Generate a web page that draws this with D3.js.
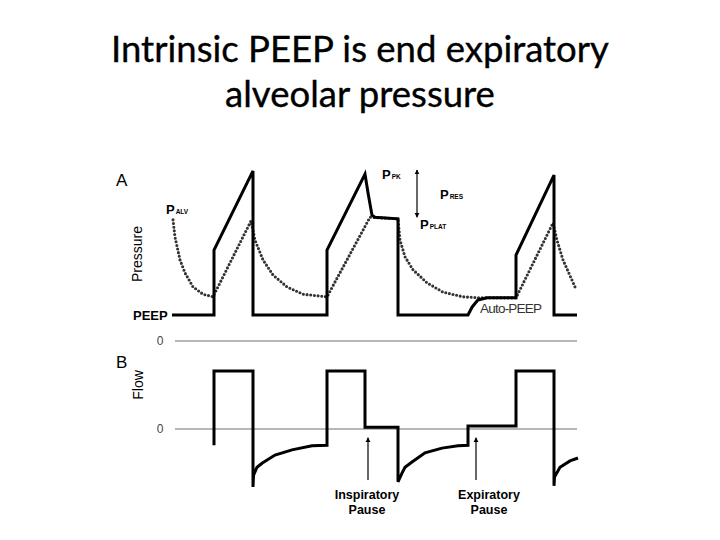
<!DOCTYPE html>
<html>
<head>
<meta charset="utf-8">
<script src="https://cdnjs.cloudflare.com/ajax/libs/d3/7.8.5/d3.min.js"></script>
<style>
  body { margin: 0; background: #fff; }
  text { font-family: "Liberation Sans", Arial, sans-serif; }
</style>
</head>
<body>
<div class="canvas"></div>
<script>

const titleLines = ['Intrinsic PEEP is end expiratory', 'alveolar pressure'];

// [time (s), airway pressure (cmH2O)]
const pressureTrace = [
  [-0.03, 5], [0.39, 5], [0.39, 17.5], [0.78, 32.7], [0.78, 5],
  [1.52, 5], [1.52, 17.5], [1.90, 32.1], [1.93, 28.5], [1.97, 24.2], [2.00, 23.8], [2.23, 23.5], [2.23, 5],
  [2.93, 5], [2.97, 6.5], [3.03, 7.9], [3.12, 8.3], [3.41, 8.3], [3.41, 16.5], [3.79, 31.9], [3.79, 5],
  [4.02, 5]
];

// [time (s), alveolar pressure (cmH2O)]
const alveolarTrace = [
  [-0.02, 23.3], [0.00, 20.0], [0.05, 15.6], [0.10, 13.1], [0.18, 10.4], [0.28, 9.0], [0.38, 8.5],
  [0.76, 23.1], [0.80, 19.4], [0.88, 15.6], [0.98, 12.7], [1.12, 10.4], [1.28, 9.0], [1.52, 8.5],
  [1.95, 23.8], [2.23, 23.5], [2.25, 19.4], [2.30, 16.2], [2.38, 13.7], [2.52, 11.2], [2.68, 9.4], [2.88, 8.5],
  [3.05, 8.3], [3.41, 8.3], [3.78, 22.7], [3.82, 19.4], [3.88, 15.6], [4.00, 10.4]
];

// [time (s), flow (L/s)]
const flowTrace = [
  [0.39, -0.28], [0.39, 1.0], [0.78, 1.0], [0.78, -1.0],
  [0.785, -0.80], [0.82, -0.66], [0.87, -0.59], [1.00, -0.45], [1.17, -0.36], [1.37, -0.29], [1.52, -0.28],
  [1.52, 1.0], [1.90, 1.0], [1.90, 0.03], [2.23, 0.03], [2.23, -0.91],
  [2.27, -0.76], [2.30, -0.66], [2.37, -0.57], [2.50, -0.41], [2.67, -0.33], [2.83, -0.29], [2.93, -0.28],
  [2.93, 0.05], [3.41, 0.05], [3.41, 1.0], [3.79, 1.0], [3.79, -0.98],
  [3.795, -0.83], [3.85, -0.66], [3.95, -0.55], [4.03, -0.50]
];

const zeroTicks = ['0'];

const svg = d3.select('.canvas')
  .append('svg')
  .attr('width', 720)
  .attr('height', 540);

// scales
const x = d3.scaleLinear().domain([0, 4]).range([175, 575]);
const yP = d3.scaleLinear().domain([0, 35]).range([341, 159]);
const yF = d3.scaleLinear().domain([-1, 1]).range([487, 371]);

const line = yScale => d3.line().x(d => x(d[0])).y(d => yScale(d[1]));

// title, sized to the slide's width
const title = svg.append('g');
titleLines.forEach((t, i) => {
  title.append('text')
    .attr('x', 360)
    .attr('y', 62 + i * 45)
    .attr('text-anchor', 'middle')
    .style('font-family', 'Lato, "Open Sans", sans-serif')
    .attr('font-size', 40)
    .attr('fill', '#000')
    .attr('stroke', '#000')
    .attr('stroke-width', 0.35)
    .text(t);
});
const tw = title.select('text').node().getComputedTextLength();
title.selectAll('text').attr('font-size', 40 * 498 / tw);

// arrowheads
const defs = svg.append('defs');
defs.append('marker')
  .attr('id', 'head')
  .attr('viewBox', '0 0 10 10')
  .attr('refX', 9).attr('refY', 5)
  .attr('markerUnits', 'userSpaceOnUse')
  .attr('markerWidth', 5).attr('markerHeight', 6)
  .attr('orient', 'auto-start-reverse')
  .append('path')
  .attr('d', 'M0,0 L10,5 L0,10 Z')
  .attr('fill', '#000');

// zero reference lines
const refs = [[yP, 0], [yF, 0]];
refs.forEach(([s, v]) => {
  svg.append('line')
    .attr('x1', x(0)).attr('x2', x(4.02))
    .attr('y1', s(v)).attr('y2', s(v))
    .attr('stroke', '#707070')
    .attr('stroke-width', 1.2);
  svg.append('text')
    .attr('x', 160).attr('y', s(v))
    .attr('dy', '0.36em')
    .attr('text-anchor', 'middle')
    .attr('font-size', 12)
    .attr('fill', '#444')
    .text(zeroTicks[0]);
});

// alveolar pressure (dotted), then airway pressure
svg.append('path')
  .datum(alveolarTrace)
  .attr('d', line(yP))
  .attr('fill', 'none')
  .attr('stroke', '#333')
  .attr('stroke-width', 3.1)
  .attr('stroke-linecap', 'round')
  .attr('stroke-dasharray', '0 3.7');

svg.append('path')
  .datum(pressureTrace)
  .attr('d', line(yP))
  .attr('fill', 'none')
  .attr('stroke', '#000')
  .attr('stroke-width', 3);

svg.append('path')
  .datum(flowTrace)
  .attr('d', line(yF))
  .attr('fill', 'none')
  .attr('stroke', '#000')
  .attr('stroke-width', 3);

// panel labels
svg.append('text').attr('x', 116).attr('y', 186).attr('font-size', 17).text('A');
svg.append('text').attr('x', 116).attr('y', 368).attr('font-size', 17).text('B');
svg.append('text')
  .attr('transform', 'translate(142,254) rotate(-90)')
  .attr('text-anchor', 'middle')
  .attr('font-size', 14)
  .text('Pressure');
svg.append('text')
  .attr('transform', 'translate(143,385) rotate(-90)')
  .attr('text-anchor', 'middle')
  .attr('font-size', 14)
  .text('Flow');
svg.append('text')
  .attr('x', 133).attr('y', yP(5) + 5)
  .attr('font-size', 13)
  .attr('font-weight', 'bold')
  .text('PEEP');

// P with small-caps subscript
const pLabel = (tx, ty, sub) => {
  const t = svg.append('text')
    .attr('x', tx).attr('y', ty)
    .attr('font-weight', 'bold')
    .attr('font-size', 13);
  t.append('tspan').text('P');
  t.append('tspan').attr('dx', 1).attr('font-size', 6.5).text(sub);
};
pLabel(x(-0.09), yP(24.4), 'ALV');
pLabel(x(2.07), yP(31.2), 'PK');
pLabel(x(2.65), yP(27.3), 'RES');
pLabel(x(2.45), yP(21.5), 'PLAT');

// PRES double arrow between peak and plateau
svg.append('line')
  .attr('x1', x(2.42)).attr('x2', x(2.42))
  .attr('y1', yP(32.9)).attr('y2', yP(23.8))
  .attr('stroke', '#000')
  .attr('stroke-width', 1.2)
  .attr('marker-start', 'url(#head)')
  .attr('marker-end', 'url(#head)');

svg.append('text')
  .attr('x', x(3.05)).attr('y', yP(5.4))
  .attr('font-size', 13.5)
  .attr('fill', '#333')
  .attr('textLength', 62)
  .text('Auto-PEEP');

// pause arrows
const pauses = [['Inspiratory', 1.93, 1.92], ['Expiratory', 3.01, 3.14]];
pauses.forEach(([name, t, tl]) => {
  svg.append('line')
    .attr('x1', x(t)).attr('x2', x(t))
    .attr('y1', yF(-0.88)).attr('y2', yF(-0.15))
    .attr('stroke', '#000')
    .attr('stroke-width', 1.2)
    .attr('marker-end', 'url(#head)');
  const lbl = svg.append('g')
    .attr('transform', `translate(${x(tl)}, ${yF(-0.88)})`);
  [name, 'Pause'].forEach((s, i) => {
    lbl.append('text')
      .attr('y', 19 + i * 15)
      .attr('text-anchor', 'middle')
      .attr('font-size', 12.5)
      .attr('font-weight', 'bold')
      .text(s);
  });
});

</script>
</body>
</html>
